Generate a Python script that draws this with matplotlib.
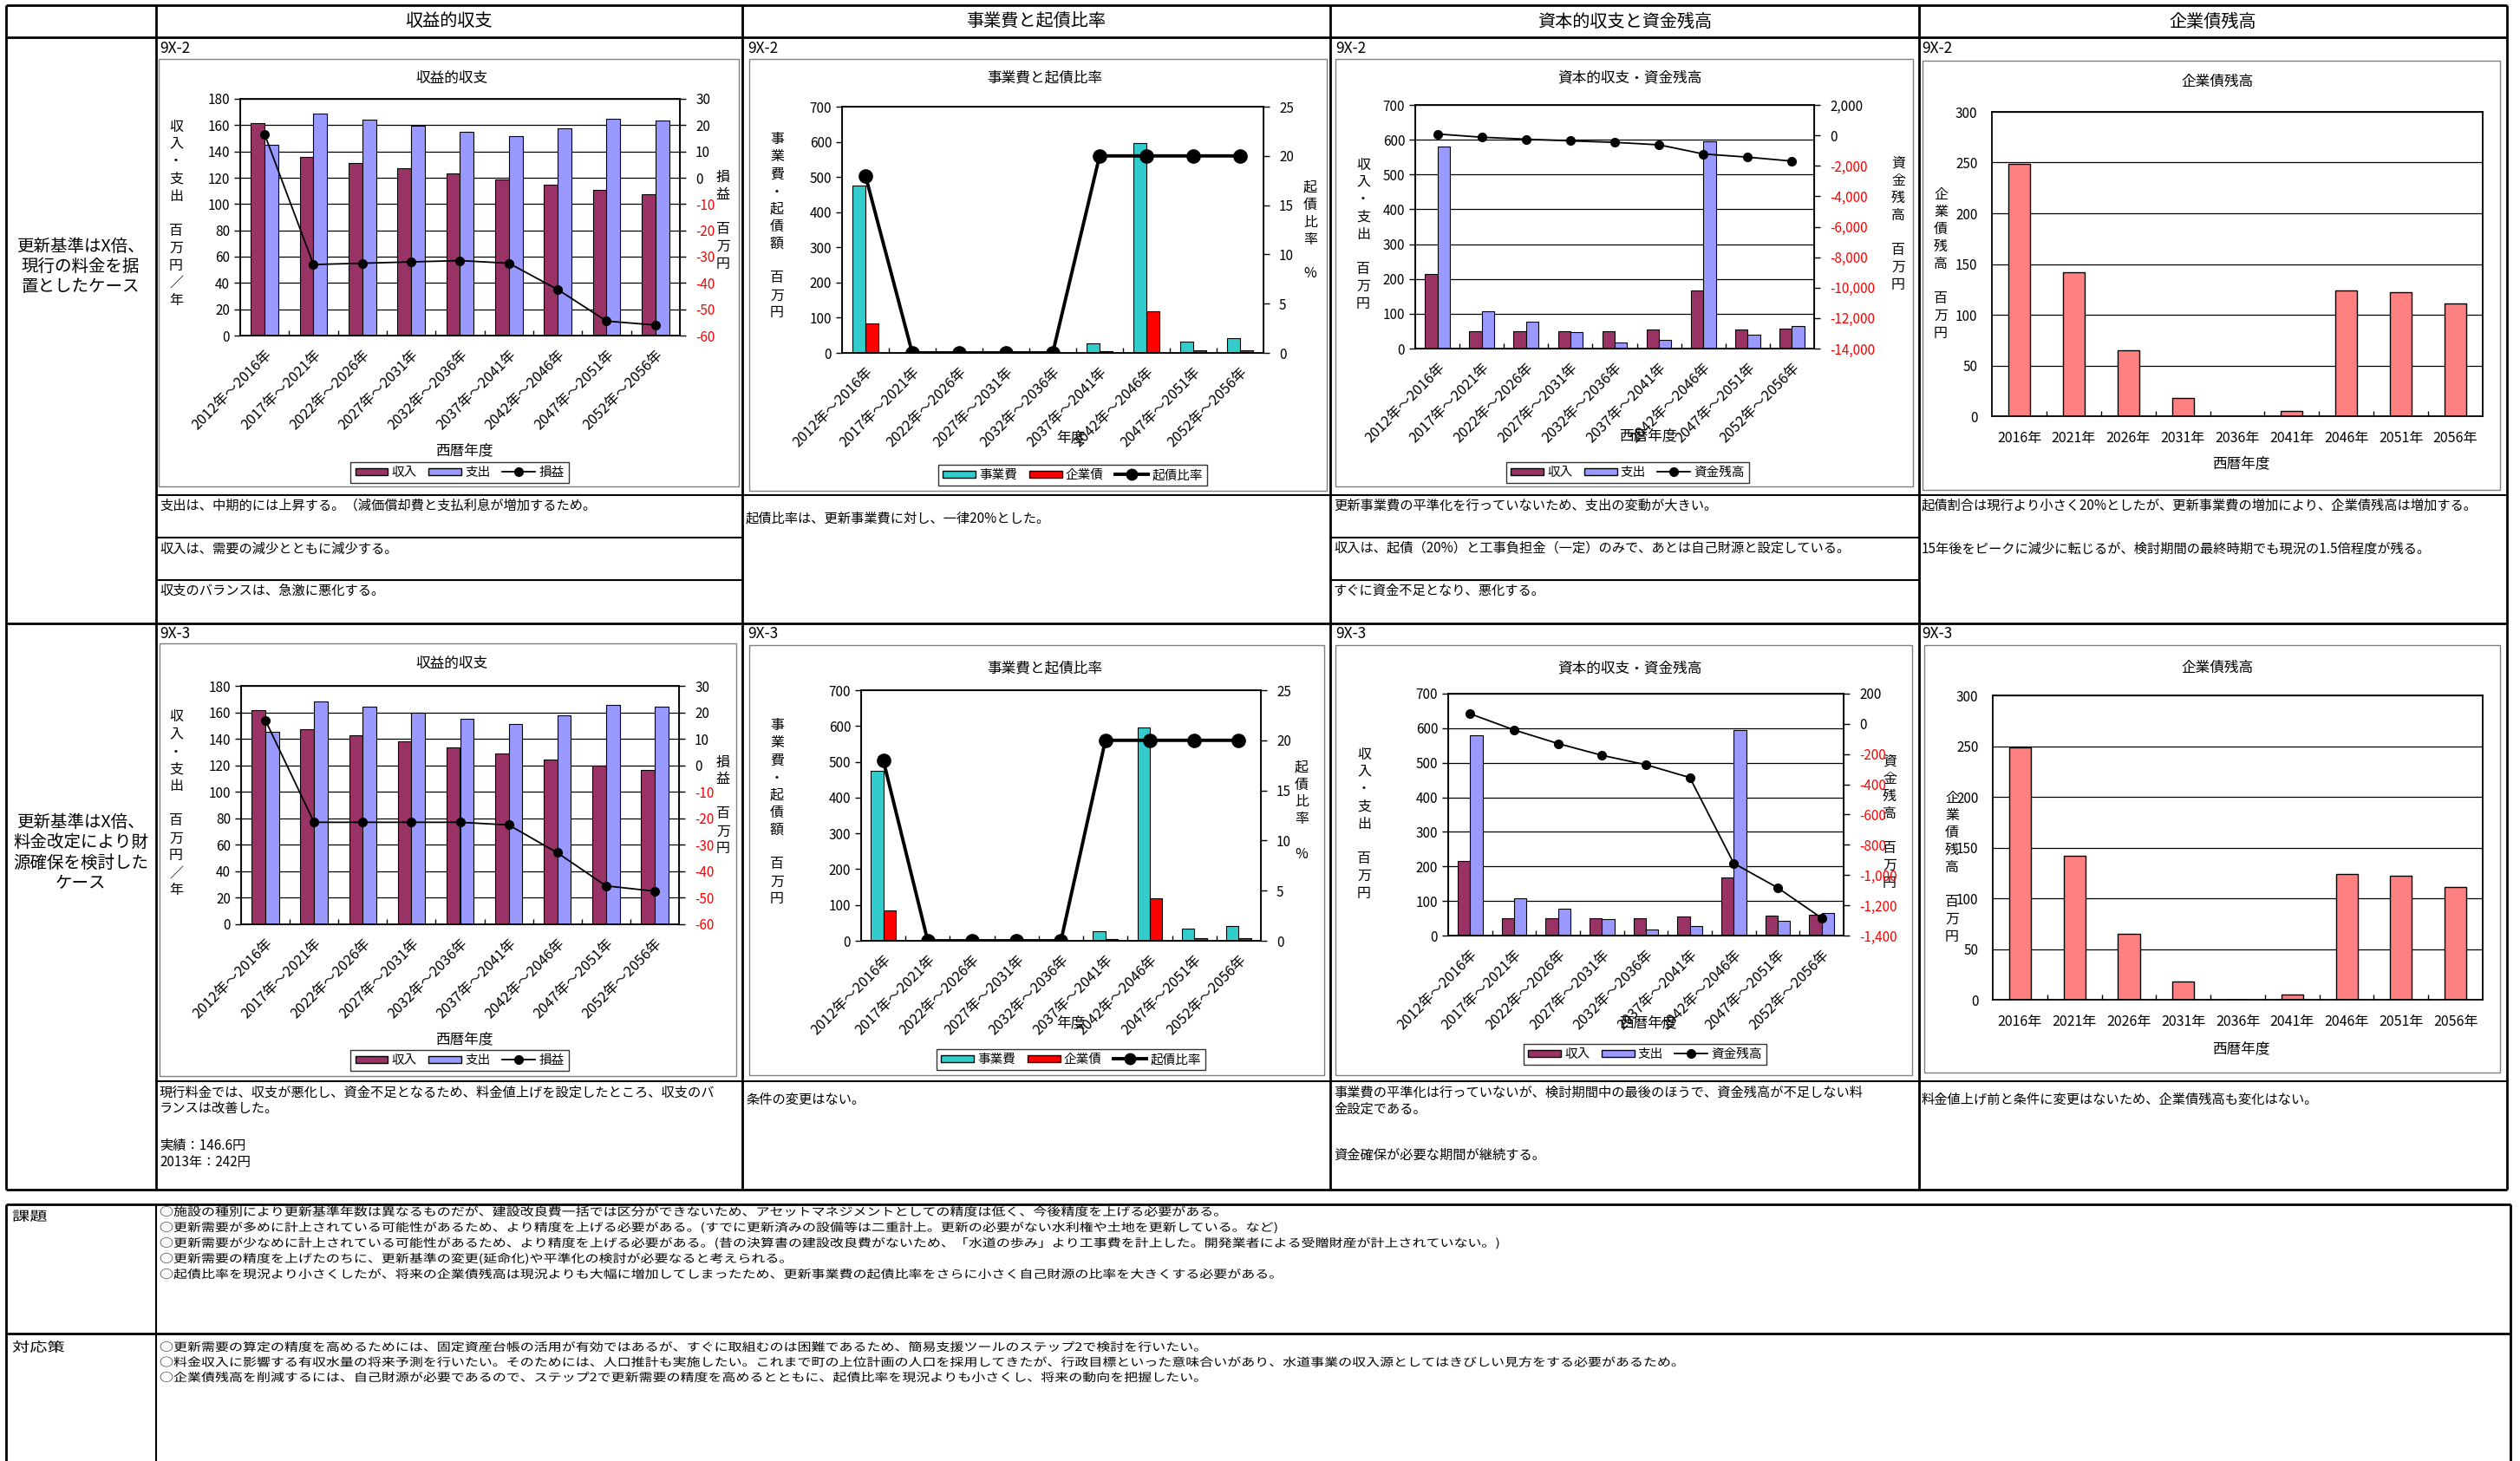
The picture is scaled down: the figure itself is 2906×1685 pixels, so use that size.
import numpy as np
import matplotlib.pyplot as plt
from matplotlib.lines import Line2D
from matplotlib.patches import Patch, Rectangle, PathPatch
from matplotlib.textpath import TextPath
from matplotlib.font_manager import FontProperties
from matplotlib.transforms import Affine2D

plt.rcParams['font.family'] = ['Noto Sans CJK JP', 'DejaVu Sans']
plt.rcParams['axes.unicode_minus'] = False

W, H = 2906, 1685

# ---- data -------------------------------------------------------------
periods = ['2012年～2016年', '2017年～2021年', '2022年～2026年', '2027年～2031年',
           '2032年～2036年', '2037年～2041年', '2042年～2046年', '2047年～2051年',
           '2052年～2056年']
years = ['2016年', '2021年', '2026年', '2031年', '2036年', '2041年', '2046年', '2051年', '2056年']

# 収益的収支 (百万円/年), 損益 on the right axis
rev_income_2 = [161.5, 135.5, 131.5, 127.5, 123.5, 119, 115, 110.5, 107.5]
rev_expense_2 = [145, 168.5, 164, 159.5, 155, 151.5, 157.5, 165, 163.5]
rev_balance_2 = [16.5, -33, -32.5, -32, -31.5, -32.5, -42.5, -54.5, -56]

rev_income_3 = [162, 147, 142.5, 138, 133.5, 129, 124.5, 119.5, 116.5]
rev_expense_3 = [145, 168.5, 164.5, 159.5, 155, 151.5, 157.5, 165.5, 164]
rev_balance_3 = [17, -21.5, -21.5, -21.5, -21.5, -22.5, -33, -45.5, -47.5]

# 事業費と起債比率
project_cost = [475, 0, 0, 0, 0, 27, 596, 33, 42]
bond_issue = [85, 0, 0, 0, 0, 5, 119, 7, 8]
bond_ratio = [18, 0, 0, 0, 0, 20, 20, 20, 20]

# 資本的収支・資金残高
cap_income_2 = [215, 49, 49, 49, 49, 55, 168, 56, 58]
cap_expense_2 = [580, 106, 77, 47, 18, 26, 595, 41, 64]
fund_balance_2 = [90, -120, -250, -360, -460, -620, -1220, -1430, -1690]

cap_income_3 = [216, 51, 51, 51, 51, 55, 169, 57, 59]
cap_expense_3 = [580, 107, 78, 47, 18, 27, 595, 43, 64]
fund_balance_3 = [67, -40, -130, -208, -270, -355, -922, -1084, -1284]

# 企業債残高
bond_balance = [249, 142, 65, 18, 0, 5, 124, 122, 111]

headers = ['収益的収支', '事業費と起債比率', '資本的収支と資金残高', '企業債残高']
case_labels = [['更新基準はX倍、', '現行の料金を据', '置としたケース'],
               ['更新基準はX倍、', '料金改定により財', '源確保を検討した', 'ケース']]
issues = [
    '○施設の種別により更新基準年数は異なるものだが、建設改良費一括では区分ができないため、アセットマネジメントとしての精度は低く、今後精度を上げる必要がある。',
    '○更新需要が多めに計上されている可能性があるため、より精度を上げる必要がある。(すでに更新済みの設備等は二重計上。更新の必要がない水利権や土地を更新している。など)',
    '○更新需要が少なめに計上されている可能性があるため、より精度を上げる必要がある。(昔の決算書の建設改良費がないため、「水道の歩み」より工事費を計上した。開発業者による受贈財産が計上されていない。)',
    '○更新需要の精度を上げたのちに、更新基準の変更(延命化)や平準化の検討が必要なると考えられる。',
    '○起債比率を現況より小さくしたが、将来の企業債残高は現況よりも大幅に増加してしまったため、更新事業費の起債比率をさらに小さく自己財源の比率を大きくする必要がある。',
]
measures = [
    '○更新需要の算定の精度を高めるためには、固定資産台帳の活用が有効ではあるが、すぐに取組むのは困難であるため、簡易支援ツールのステップ2で検討を行いたい。',
    '○料金収入に影響する有収水量の将来予測を行いたい。そのためには、人口推計も実施したい。これまで町の上位計画の人口を採用してきたが、行政目標といった意味合いがあり、水道事業の収入源としてはきびしい見方をする必要があるため。',
    '○企業債残高を削減するには、自己財源が必要であるので、ステップ2で更新需要の精度を高めるとともに、起債比率を現況よりも小さくし、将来の動向を把握したい。',
]

C_INC, C_EXP = '#993366', '#9999FF'
C_COST, C_BOND = '#33CCCC', '#FF0000'
C_BAL = '#FF8080'

fig = plt.figure(figsize=(W / 100, H / 100), dpi=100)
bg = fig.add_axes([0, 0, 1, 1])
bg.set_xlim(0, W)
bg.set_ylim(H, 0)
bg.axis('off')

jp = FontProperties(family='Noto Sans CJK JP')


def axes_px(box):
    x0, y0, x1, y1 = box
    return fig.add_axes([x0 / W, 1 - y1 / H, (x1 - x0) / W, (y1 - y0) / H])


def frame(box):
    x0, y0, x1, y1 = box
    bg.add_patch(Rectangle((x0, y0), x1 - x0, y1 - y0, facecolor='white',
                           edgecolor='#808080', lw=1))


def stacked(x, y, text, step=20, size=11.5):
    for i, ch in enumerate(text):
        bg.text(x, y + i * step, ch, ha='center', va='center', fontsize=size)


def wide_text(x, y, s, size=13, sx=1.23):
    # text drawn as a path so it can be stretched sideways; y is the line middle
    path = TextPath((0, 0), s, size=size, prop=jp)
    tr = Affine2D().scale(sx, -1).translate(x, y + 0.38 * size) + bg.transData
    bg.add_patch(PathPatch(path, transform=tr, facecolor='black', lw=0))


def hline(y, x0, x1, lw=2.0):
    bg.plot([x0, x1], [y, y], color='black', lw=lw, solid_capstyle='butt')


def vline(x, y0, y1, lw=2.0):
    bg.plot([x, x], [y0, y1], color='black', lw=lw, solid_capstyle='butt')


def base_axes(ax, ylim, yticks, grid=True):
    ax.set_ylim(*ylim)
    ax.set_yticks(yticks, [f'{v:,}' for v in yticks])
    ax.set_xlim(-0.5, 8.5)
    ax.set_xticks(np.arange(0.5, 8, 1), minor=True)
    ax.tick_params(axis='x', which='minor', length=4, direction='in', width=1)
    ax.tick_params(axis='y', length=5, width=1, labelsize=11)
    for s in ax.spines.values():
        s.set_linewidth(1.3)
    if grid:
        ax.yaxis.grid(True, color='black', lw=0.9)
        ax.set_axisbelow(True)


def right_axis(ax, ylim, yticks):
    ax2 = ax.twinx()
    ax2.set_ylim(*ylim)
    ax2.set_yticks(yticks, [f'{v:,}' for v in yticks])
    ax2.tick_params(axis='y', length=5, width=1, labelsize=11, pad=8)
    for lab, v in zip(ax2.get_yticklabels(), yticks):
        lab.set_color('#FF0000' if v < 0 else 'black')
    return ax2


def period_ticks(ax):
    ax.set_xticks(np.arange(9), periods, rotation=45, ha='right', va='top',
                  rotation_mode='anchor', fontsize=11.8)
    ax.tick_params(axis='x', which='major', length=0, pad=10)


def legend(ax, handles, names, pos):
    lg = ax.legend(handles, names, loc='center', ncol=3, fontsize=10.5,
                   bbox_to_anchor=(pos[0] / W, 1 - pos[1] / H),
                   bbox_transform=fig.transFigure, frameon=True, fancybox=False,
                   handlelength=2.6, handleheight=0.5, handletextpad=0.3,
                   columnspacing=0.9, borderpad=0.35)
    lg.get_frame().set_edgecolor('black')
    lg.get_frame().set_linewidth(1)


x = np.arange(9)
w = 0.28

rows = [
    dict(tag='9X-2', y_tag=56, rev=(rev_income_2, rev_expense_2, rev_balance_2),
         cap=(cap_income_2, cap_expense_2, fund_balance_2),
         cap_r=((-14000, 2000), list(range(2000, -14001, -2000))),
         c1=dict(box=(183, 68, 852, 561), plot=(277, 114, 784, 387), title=90, xl=520, lg=(530, 545),
                 yl=(203, 146), yr=(834, 204)),
         c2=dict(box=(864, 68, 1530, 566), plot=(971, 123, 1457, 407), title=90, xl=505, lg=(1237, 548),
                 yl=(896, 161), yr=(1511, 216)),
         c3=dict(box=(1540, 68, 2206, 561), plot=(1632, 121, 2092, 402), title=90, xl=503, lg=(1877, 545),
                 yl=(1572, 190), yr=(2189, 188)),
         c4=dict(box=(2217, 70, 2883, 565), plot=(2297, 129, 2863, 480), title=94, xl=535,
                 yl=(2238, 224))),
    dict(tag='9X-3', y_tag=731, rev=(rev_income_3, rev_expense_3, rev_balance_3),
         cap=(cap_income_3, cap_expense_3, fund_balance_3),
         cap_r=((-1400, 200), list(range(200, -1401, -200))),
         c1=dict(box=(184, 742, 849, 1241), plot=(278, 791, 783, 1066), title=765, xl=1199, lg=(530, 1223),
                 yl=(203, 827), yr=(834, 879)),
         c2=dict(box=(864, 744, 1527, 1240), plot=(993, 796, 1454, 1085), title=771, xl=1180, lg=(1235, 1222),
                 yl=(896, 837), yr=(1501, 885)),
         c3=dict(box=(1540, 744, 2205, 1240), plot=(1670, 800, 2126, 1079), title=771, xl=1180, lg=(1897, 1216),
                 yl=(1573, 870), yr=(2179, 878)),
         c4=dict(box=(2219, 744, 2883, 1237), plot=(2298, 802, 2863, 1153), title=770, xl=1210,
                 yl=(2251, 920))),
]

for r in rows:
    # 収益的収支
    g = r['c1']
    frame(g['box'])
    inc, exp, bal = r['rev']
    ax = axes_px(g['plot'])
    ax.bar(x - w / 2, inc, w, color=C_INC, edgecolor='black', lw=0.8)
    ax.bar(x + w / 2, exp, w, color=C_EXP, edgecolor='black', lw=0.8)
    base_axes(ax, (0, 180), list(range(0, 181, 20)))
    period_ticks(ax)
    ax2 = right_axis(ax, (-60, 30), list(range(30, -61, -10)))
    ax2.plot(x, bal, color='black', lw=1.3, marker='o', ms=7)
    bg.text(521, g['title'], '収益的収支', ha='center', va='center', fontsize=12)
    bg.text(535, g['xl'], '西暦年度', ha='center', va='center', fontsize=12)
    stacked(*g['yl'], '収入・支出　百万円／年')
    stacked(*g['yr'], '損益　百万円')
    legend(ax, [Patch(fc=C_INC, ec='black'), Patch(fc=C_EXP, ec='black'),
                Line2D([], [], color='black', lw=1.3, marker='o', ms=7)],
           ['収入', '支出', '損益'], g['lg'])

    # 事業費と起債比率
    g = r['c2']
    frame(g['box'])
    ax = axes_px(g['plot'])
    ax.bar(x - w / 2, project_cost, w, color=C_COST, edgecolor='black', lw=0.8)
    ax.bar(x + w / 2, bond_issue, w, color=C_BOND, edgecolor='black', lw=0.8)
    base_axes(ax, (0, 700), list(range(0, 701, 100)), grid=False)
    period_ticks(ax)
    ax2 = right_axis(ax, (0, 25), list(range(0, 26, 5)))
    ax2.plot(x, bond_ratio, color='black', lw=2.8, marker='o', ms=11)
    bg.text(1205, g['title'], '事業費と起債比率', ha='center', va='center', fontsize=12)
    bg.text(1235, g['xl'], '年度', ha='center', va='center', fontsize=12)
    stacked(*g['yl'], '事業費・起債額　百万円')
    stacked(*g['yr'], '起債比率　%')
    legend(ax, [Patch(fc=C_COST, ec='black'), Patch(fc=C_BOND, ec='black'),
                Line2D([], [], color='black', lw=2.8, marker='o', ms=9)],
           ['事業費', '企業債', '起債比率'], g['lg'])

    # 資本的収支・資金残高
    g = r['c3']
    frame(g['box'])
    inc, exp, fund = r['cap']
    ax = axes_px(g['plot'])
    ax.bar(x - w / 2, inc, w, color=C_INC, edgecolor='black', lw=0.8)
    ax.bar(x + w / 2, exp, w, color=C_EXP, edgecolor='black', lw=0.8)
    base_axes(ax, (0, 700), list(range(0, 701, 100)))
    period_ticks(ax)
    ax2 = right_axis(ax, *r['cap_r'])
    ax2.plot(x, fund, color='black', lw=1.3, marker='o', ms=7)
    bg.text(1879, g['title'], '資本的収支・資金残高', ha='center', va='center', fontsize=12)
    bg.text(1900, g['xl'], '西暦年度', ha='center', va='center', fontsize=12)
    stacked(*g['yl'], '収入・支出　百万円')
    stacked(*g['yr'], '資金残高　百万円')
    legend(ax, [Patch(fc=C_INC, ec='black'), Patch(fc=C_EXP, ec='black'),
                Line2D([], [], color='black', lw=1.3, marker='o', ms=7)],
           ['収入', '支出', '資金残高'], g['lg'])

    # 企業債残高
    g = r['c4']
    frame(g['box'])
    ax = axes_px(g['plot'])
    ax.bar(x, bond_balance, 0.4, color=C_BAL, edgecolor='black', lw=1.0)
    base_axes(ax, (0, 300), list(range(0, 301, 50)))
    ax.set_xticks(x, years, fontsize=11.5)
    ax.tick_params(axis='x', which='major', length=0, pad=12)
    ax.tick_params(axis='y', length=0, pad=12)
    bg.text(2557, g['title'], '企業債残高', ha='center', va='center', fontsize=12)
    bg.text(2584, g['xl'], '西暦年度', ha='center', va='center', fontsize=12)
    stacked(*g['yl'], '企業債残高　百万円')

    for cx in (184, 862, 1540, 2216):
        bg.text(cx, r['y_tag'], r['tag'], ha='left', va='center', fontsize=12.5)

# ---- table grid ---------------------------------------------------------
cols = [7, 180, 856, 1534, 2213, 2891]
for cx in cols:
    vline(cx, 6, 1372)
for y in (6, 43, 719, 1372):
    hline(y, 7, 2891)
hline(571, 180, 2891, 1.5)
for y in (620, 669):
    hline(y, 180, 856, 1.5)
    hline(y, 1534, 2213, 1.5)
hline(1247, 180, 2891, 1.5)

for (c0, c1), title in zip(zip(cols[1:], cols[2:]), headers):
    bg.text((c0 + c1) / 2, 25, title, ha='center', va='center', fontsize=14.5)

for lines, y0 in zip(case_labels, (284, 948)):
    for i, s in enumerate(lines):
        bg.text(93, y0 + i * 23.5, s, ha='center', va='center', fontsize=14)

cell_text = [
    (184, 583, '支出は、中期的には上昇する。（減価償却費と支払利息が増加するため。'),
    (184, 633, '収入は、需要の減少とともに減少する。'),
    (184, 681, '収支のバランスは、急激に悪化する。'),
    (860, 598, '起債比率は、更新事業費に対し、一律20%とした。'),
    (1538, 583, '更新事業費の平準化を行っていないため、支出の変動が大きい。'),
    (1538, 632, '収入は、起債（20%）と工事負担金（一定）のみで、あとは自己財源と設定している。'),
    (1538, 681, 'すぐに資金不足となり、悪化する。'),
    (2216, 583, '起債割合は現行より小さく20%としたが、更新事業費の増加により、企業債残高は増加する。'),
    (2216, 633, '15年後をピークに減少に転じるが、検討期間の最終時期でも現況の1.5倍程度が残る。'),
    (184, 1260, '現行料金では、収支が悪化し、資金不足となるため、料金値上げを設定したところ、収支のバ'),
    (184, 1279, 'ランスは改善した。'),
    (184, 1321, '実績：146.6円'),
    (184, 1341, '2013年：242円'),
    (860, 1268, '条件の変更はない。'),
    (1538, 1260, '事業費の平準化は行っていないが、検討期間中の最後のほうで、資金残高が不足しない料'),
    (1538, 1279, '金設定である。'),
    (1538, 1332, '資金確保が必要な期間が継続する。'),
    (2216, 1268, '料金値上げ前と条件に変更はないため、企業債残高も変化はない。'),
]
for tx, ty, s in cell_text:
    bg.text(tx, ty, s, ha='left', va='center', fontsize=11)

# ---- 課題 / 対応策 ------------------------------------------------------
hline(1389, 7, 2895)
hline(1538, 7, 2895)
vline(7, 1389, H)
vline(180, 1389, H, 1.5)
vline(2895, 1389, H)
wide_text(14, 1402, '課題', size=15, sx=1.35)
wide_text(14, 1553, '対応策', size=15, sx=1.35)
for i, s in enumerate(issues):
    wide_text(184, 1397 + i * 18, s)
for i, s in enumerate(measures):
    wide_text(184, 1553 + i * 17.5, s)

fig.savefig('out.png', dpi=100)
